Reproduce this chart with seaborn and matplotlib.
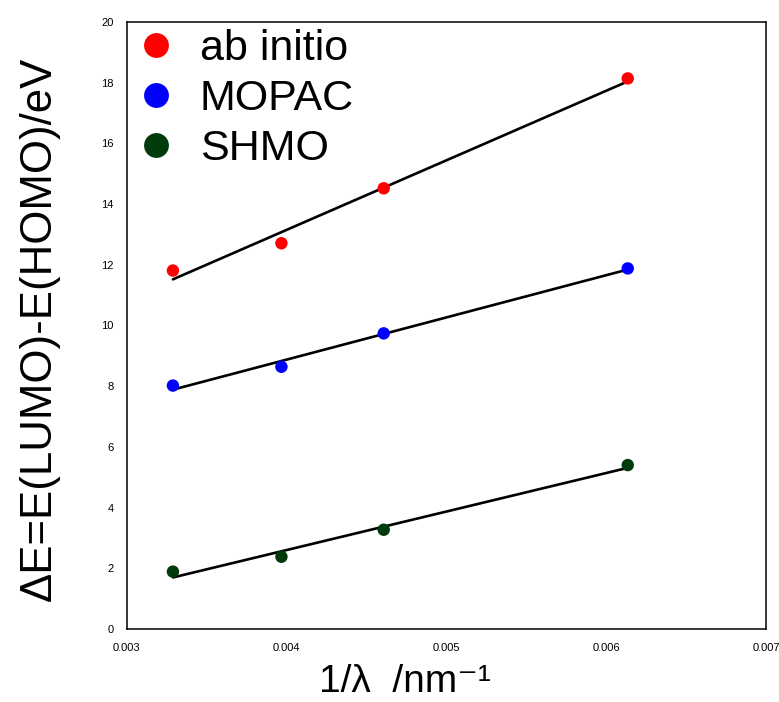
import numpy as np
import pandas as pd
import matplotlib
matplotlib.use("Agg")
import matplotlib.pyplot as plt
import seaborn as sns

# 1/lambda (nm^-1) for the four polyenes
inv_lambda = [1 / 304, 1 / 252, 1 / 217, 1 / 163]

# HOMO-LUMO gaps (eV) per method
ab_initio = [11.81, 12.71, 14.52, 18.14]
mopac = [8.02, 8.64, 9.74, 11.88]
shmo = [1.89, 2.38, 3.27, 5.40]

methods = ["ab initio", "MOPAC", "SHMO"]
colors = ["#ff0000", "#0000ff", "#013a0b"]

x_ticks = [0.003, 0.004, 0.005, 0.006, 0.007]
y_ticks = [0, 2, 4, 6, 8, 10, 12, 14, 16, 18, 20]

sns.set_style("white")
plt.rcParams["font.family"] = ["Liberation Sans", "DejaVu Sans"]
plt.rcParams["text.color"] = "black"
plt.rcParams["axes.labelcolor"] = "black"
plt.rcParams["xtick.color"] = "black"
plt.rcParams["ytick.color"] = "black"

df = pd.DataFrame({
    "x": inv_lambda * 3,
    "y": ab_initio + mopac + shmo,
    "method": [m for m in methods for _ in inv_lambda],
})

fig = plt.figure(figsize=(7.79, 7.02), dpi=100)
ax = fig.add_axes([0.1626, 0.104, 0.8207, 0.8647])

# fit lines first so the dots sit on top
for m in methods:
    sub = df[df["method"] == m]
    sns.regplot(data=sub, x="x", y="y", scatter=False, ci=None,
                truncate=True, color="black", line_kws={"lw": 1.9}, ax=ax)

sns.scatterplot(data=df, x="x", y="y", hue="method", hue_order=methods,
                palette=colors, s=80, edgecolor="none", zorder=3, ax=ax)

ax.set_xlim(0.003, 0.007)
ax.set_ylim(0, 20)
ax.set_xticks(x_ticks)
ax.set_xticklabels([f"{v:.3f}" for v in x_ticks])
ax.set_yticks(y_ticks)
ax.set_yticklabels([str(v) for v in y_ticks])
ax.tick_params(axis="both", direction="in", length=3, width=1,
               labelsize=8, color="black")
ax.tick_params(axis="x", pad=10)
ax.tick_params(axis="y", pad=9.5)

for sp in ax.spines.values():
    sp.set_visible(True)
    sp.set_color("black")
    sp.set_linewidth(1.1)

ax.set_xlabel("1/λ  /nm⁻¹", fontsize=28)
ax.set_ylabel("ΔE=E(LUMO)-E(HOMO)/eV", fontsize=31.5)
ax.xaxis.set_label_coords(0.435, -0.058)
ax.yaxis.set_label_coords(-0.105, 0.494)

leg = ax.legend(loc="upper left", bbox_to_anchor=(0.0, 1.0), frameon=False,
                fontsize=31, markerscale=2.0, handlelength=1.0,
                handletextpad=0.53, labelspacing=0.23, borderpad=0,
                borderaxespad=0.17, title=None)

fig.savefig("out.png", dpi=100)
